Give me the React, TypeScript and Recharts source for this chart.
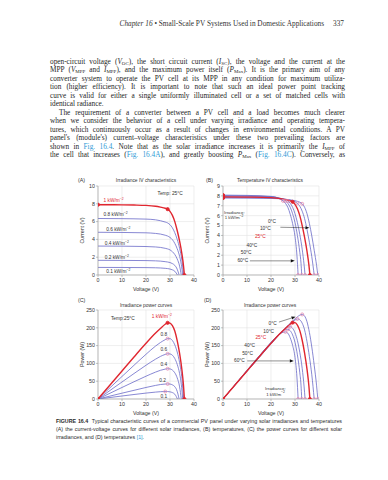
import React from 'react';
import { ComposedChart, Line, XAxis, YAxis, CartesianGrid, ReferenceDot, ReferenceLine } from 'recharts';

const RED = '#e0262f';
const BLUE = '#6a6ac8';
const PINK = '#e68cae';
const TXT = '#333';
const FONT = '"Liberation Sans", Arial, sans-serif';
const SERIF = '"Liberation Serif", "Times New Roman", serif';

// ---------- ticks ----------
const voltageTicks = [0, 10, 20, 30, 40];
const currentTicksA = [0, 2, 4, 6, 8, 10];
const currentTicksB = [0, 1, 2, 3, 4, 5, 6, 7, 8, 9];
const powerTicks = [0, 50, 100, 150, 200, 250];

// ---------- (A) irradiance I-V [V, A] ----------
const ivA1000 = [[0, 7.9], [5, 7.89], [10, 7.88], [15, 7.86], [20, 7.82], [24, 7.72], [26, 7.62], [28, 7.5], [29, 7.4], [30, 7.15], [31, 6.7], [32, 6.0], [33, 5.0], [34, 3.8], [35, 2.3], [35.6, 1.1], [36, 0]];
const ivA800 = [[0, 6.35], [10, 6.33], [20, 6.28], [24, 6.2], [26, 6.1], [28, 5.95], [29, 5.85], [30, 5.65], [31, 5.3], [32, 4.75], [33, 4.0], [34, 3.0], [35, 1.6], [35.7, 0]];
const ivA600 = [[0, 4.8], [10, 4.78], [20, 4.74], [24, 4.67], [26, 4.6], [28, 4.47], [29, 4.38], [30, 4.22], [31, 3.97], [32, 3.55], [33, 2.95], [34, 2.1], [34.7, 1.2], [35.3, 0]];
const ivA400 = [[0, 3.25], [10, 3.24], [20, 3.2], [24, 3.15], [26, 3.1], [28, 3.0], [29, 2.93], [30, 2.82], [31, 2.62], [32, 2.3], [33, 1.8], [34, 1.0], [34.7, 0]];
const ivA200 = [[0, 1.65], [10, 1.64], [20, 1.62], [24, 1.59], [26, 1.56], [28, 1.5], [29, 1.46], [30, 1.4], [31, 1.28], [32, 1.08], [33, 0.65], [33.8, 0]];
const ivA100 = [[0, 0.85], [10, 0.845], [20, 0.83], [24, 0.81], [26, 0.79], [28, 0.75], [29, 0.72], [30, 0.67], [31, 0.58], [32, 0.42], [32.6, 0.22], [33.1, 0]];
const markA = [[0, 7.9], [29, 7.4], [36, 0]];

// ---------- (B) temperature I-V ----------
const ivB0 = [[0, 7.78], [10, 7.77], [20, 7.74], [26, 7.66], [29, 7.56], [31, 7.45], [32, 7.36], [33, 7.2], [34, 6.85], [35, 6.2], [36, 5.2], [37, 3.95], [38, 2.5], [39, 0.95], [39.5, 0]];
const ivB10 = [[0, 7.84], [10, 7.83], [20, 7.79], [25, 7.69], [28, 7.56], [30, 7.4], [31, 7.25], [32, 6.95], [33, 6.45], [34, 5.7], [35, 4.6], [36, 3.3], [37, 1.85], [38, 0]];
const ivB25 = [[0, 7.9], [10, 7.88], [20, 7.82], [24, 7.72], [26, 7.62], [28, 7.5], [29, 7.4], [30, 7.15], [31, 6.7], [32, 6.0], [33, 5.0], [34, 3.8], [35, 2.4], [35.8, 1.0], [36.2, 0]];
const ivB40 = [[0, 7.97], [10, 7.95], [20, 7.88], [24, 7.76], [26, 7.6], [27, 7.48], [28, 7.25], [29, 6.85], [30, 6.2], [31, 5.3], [32, 4.1], [33, 2.6], [33.8, 1.0], [34.2, 0]];
const ivB50 = [[0, 8.02], [10, 8.0], [20, 7.92], [23, 7.8], [25, 7.62], [26, 7.5], [27, 7.25], [28, 6.85], [29, 6.2], [30, 5.3], [31, 4.0], [32, 2.3], [32.5, 1.2], [32.8, 0]];
const ivB60 = [[0, 8.08], [10, 8.05], [20, 7.95], [23, 7.78], [24, 7.65], [25, 7.5], [26, 7.25], [27, 6.85], [28, 6.15], [29, 5.2], [30, 3.9], [30.8, 2.0], [31.3, 0]];
const markBRed = [[0, 7.78], [0, 7.84], [0, 7.9], [0, 7.97], [0, 8.02], [0, 8.08], [29, 7.4], [36.2, 0]];
const markBPink = [[33, 7.2], [31, 7.25], [27, 7.48], [26, 7.5], [25, 7.5], [39.5, 0], [38, 0], [34.2, 0], [32.8, 0], [31.3, 0]];

// ---------- (C) irradiance P-V [V, W] ----------
const pC1000 = [[0, 0], [5, 39.5], [10, 78.8], [15, 117.9], [20, 156.4], [24, 185.3], [26, 198], [28, 210], [29, 214], [30, 213], [31, 206], [32, 191], [33, 164], [34, 128], [35, 80], [35.6, 40], [36, 0]];
const pC800 = [[0, 0], [5, 31.7], [10, 63.3], [15, 94.7], [20, 125.6], [24, 148.8], [26, 158.6], [28, 166.6], [29, 169.6], [30, 169.5], [31, 164.3], [32, 152], [33, 132], [34, 102], [35, 56], [35.7, 0]];
const pC600 = [[0, 0], [5, 24], [10, 47.8], [15, 71.5], [20, 94.8], [24, 112], [26, 119.6], [28, 125.2], [29, 127], [30, 126.6], [31, 123], [32, 113.6], [33, 97.4], [34, 71.4], [34.7, 41.6], [35.3, 0]];
const pC400 = [[0, 0], [5, 16.2], [10, 32.4], [15, 48.4], [20, 64], [24, 75.6], [26, 80.6], [28, 84], [29, 85], [30, 84.6], [31, 81.2], [32, 73.6], [33, 59.4], [34, 34], [34.7, 0]];
const pC200 = [[0, 0], [5, 8.2], [10, 16.4], [15, 24.4], [20, 32.4], [24, 38.2], [26, 40.6], [28, 42], [29, 42.3], [30, 42], [31, 39.7], [32, 34.6], [33, 21.5], [33.8, 0]];
const pC100 = [[0, 0], [5, 4.2], [10, 8.45], [15, 12.6], [20, 16.6], [24, 19.4], [26, 20.5], [28, 21], [29, 20.9], [30, 20.1], [31, 18], [32, 13.4], [32.6, 7.2], [33.1, 0]];
const markCRed = [[0, 0], [29, 214], [36, 0]];
const markCPink = [[29, 169.6], [29, 127], [29, 85], [29, 42.3], [28, 21]];

// ---------- (D) temperature P-V ----------
const pD0 = [[0, 0], [5, 38.9], [10, 77.7], [15, 116], [20, 154.8], [26, 199], [29, 219], [31, 231], [32, 235.5], [33, 237.6], [34, 233], [35, 217], [36, 187], [37, 146], [38, 95], [39, 37], [39.5, 0]];
const pD10 = [[0, 0], [5, 39.2], [10, 78.3], [15, 117.3], [20, 155.8], [25, 192], [28, 211.7], [30, 222], [31, 224.8], [32, 222.4], [33, 213], [34, 194], [35, 161], [36, 119], [37, 68], [38, 0]];
const pD25 = [[0, 0], [5, 39.5], [10, 78.8], [15, 117.9], [20, 156.4], [24, 185.3], [26, 198], [28, 210], [29, 214.6], [30, 214.5], [31, 207.7], [32, 192], [33, 165], [34, 129], [35, 84], [35.8, 36], [36.2, 0]];
const pD40 = [[0, 0], [5, 39.8], [10, 79.5], [15, 118.8], [20, 157.6], [24, 186.2], [26, 197.6], [27, 202], [28, 203], [29, 198.7], [30, 186], [31, 164.3], [32, 131], [33, 85.8], [33.8, 34], [34.2, 0]];
const pD50 = [[0, 0], [5, 40], [10, 80], [15, 119.6], [20, 158.4], [23, 179.4], [25, 190.5], [26, 195], [27, 195.8], [28, 191.8], [29, 180], [30, 159], [31, 124], [32, 73.6], [32.5, 39], [32.8, 0]];
const pD60 = [[0, 0], [5, 40.3], [10, 80.5], [15, 120.2], [20, 159], [23, 179], [24, 183.6], [25, 187.5], [26, 188.5], [27, 185], [28, 172], [29, 150.8], [30, 117], [30.8, 61.6], [31.3, 0]];
const markDRed = [[0, 0], [29, 214.6], [36.2, 0]];
const markDPink = [[33, 237.6], [31, 224.8], [28, 203], [27, 195.8], [26, 188.5], [39.5, 0], [38, 0], [34.2, 0], [32.8, 0], [31.3, 0]];

const pts = (a: number[][]) => a.map(([v, y]) => ({ v, y }));

const curve = (key: string, data: number[][], color: string, width: number) => (
  <Line key={key} data={pts(data)} dataKey="y" type="monotone" stroke={color} strokeWidth={width}
    dot={false} activeDot={false} isAnimationActive={false} legendType="none" />
);

const marks = (key: string, data: number[][], color: string, filled: boolean, r: number) => (
  <Line key={key} data={pts(data)} dataKey="y" type="linear" stroke="none"
    dot={{ r, fill: filled ? color : 'none', stroke: color, strokeWidth: 0.8 }}
    activeDot={false} isAnimationActive={false} legendType="none" />
);

const sup = (s: string) => <tspan dy={-1.6} fontSize={3.4}>{s}</tspan>;

const note = (key: string, x: number, y: number, content: React.ReactNode, color = TXT, size = 4.8) => (
  <ReferenceDot key={key} x={x} y={y} r={0} fill="none" stroke="none" ifOverflow="visible"
    label={{
      content: (p: any) => {
        const vb = p.viewBox || {};
        return (
          <text x={vb.x} y={vb.y} fontSize={size} fill={color} fontFamily={FONT} dominantBaseline="central">
            {content}
          </text>
        );
      },
    }} />
);

const arrow = (key: string, x1: number, y1: number, x2: number, y2: number) => (
  <ReferenceLine key={key} segment={[{ x: x1, y: y1 }, { x: x2, y: y2 }]} stroke="#222" strokeWidth={0.5}
    ifOverflow="visible"
    shape={(p: any) => {
      const a = Math.atan2(p.y2 - p.y1, p.x2 - p.x1);
      const L = 4, W = 1.6;
      const bx = p.x2 - L * Math.cos(a), by = p.y2 - L * Math.sin(a);
      const px = -Math.sin(a) * W, py = Math.cos(a) * W;
      return (
        <g>
          <line x1={p.x1} y1={p.y1} x2={bx} y2={by} stroke="#222" strokeWidth={0.5} />
          <path d={`M${p.x2},${p.y2} L${bx + px},${by + py} L${bx - px},${by - py} Z`} fill="#111" />
        </g>
      );
    }} />
);

const tickStyle = { fontSize: 5.3, fill: TXT, fontFamily: FONT };

function Panel(props: {
  left: number; top: number; yTicks: number[]; yMax: number; yLabel: string; children: React.ReactNode;
}) {
  const { left, top, yTicks, yMax, yLabel, children } = props;
  return (
    <div style={{ position: 'absolute', left, top, width: 126, height: 122 }}>
      <ComposedChart width={126} height={122} margin={{ top: 10, right: 4, bottom: 5, left: 0 }}>
        <CartesianGrid stroke="#e2e2e2" strokeWidth={0.6} />
        <XAxis dataKey="v" type="number" domain={[0, 40]} ticks={voltageTicks} allowDataOverflow
          height={18} tick={tickStyle} tickSize={2} tickMargin={1} interval={0}
          axisLine={{ stroke: '#999', strokeWidth: 0.6 }} tickLine={{ stroke: '#999', strokeWidth: 0.6 }}
          label={{ value: 'Voltage (V)', position: 'insideBottom', offset: 2, fontSize: 5.3, fill: TXT, fontFamily: FONT }} />
        <YAxis type="number" domain={[0, yMax]} ticks={yTicks} allowDataOverflow width={26}
          tick={tickStyle} tickSize={2} tickMargin={1} interval={0}
          axisLine={{ stroke: '#999', strokeWidth: 0.6 }} tickLine={{ stroke: '#999', strokeWidth: 0.6 }}
          label={{
            content: (p: any) => {
              const vb = p.viewBox || { x: 0, y: 0, height: 0 };
              const x = vb.x + 10;
              const y = vb.y + vb.height / 2;
              return (
                <text x={x} y={y} transform={`rotate(-90 ${x} ${y})`} textAnchor="middle" dominantBaseline="central"
                  fontSize={5.3} fill={TXT} fontFamily={FONT}>{yLabel}</text>
              );
            },
          }} />
        {children}
      </ComposedChart>
    </div>
  );
}

const Ref = ({ children }: { children: React.ReactNode }) => <span style={{ color: '#2f9bd6' }}>{children}</span>;
const subStyle: React.CSSProperties = { fontSize: '0.68em', verticalAlign: '-0.25em', lineHeight: 0 };
const S = ({ c }: { c: string }) => <sub style={subStyle}>{c}</sub>;

const bodyLines: React.ReactNode[] = [
  <>open-circuit voltage (<i>V</i><S c="OC" />), the short circuit current (<i>I</i><S c="SC" />), the voltage and the current at the</>,
  <>MPP (<i>V</i><S c="MPP" /> and <i>I</i><S c="MPP" />), and the maximum power itself (<i>P</i><S c="Max" />). It is the primary aim of any</>,
  <>converter system to operate the PV cell at its MPP in any condition for maximum utiliza-</>,
  <>tion (higher efficiency). It is important to note that such an ideal power point tracking</>,
  <>curve is valid for either a single uniformly illuminated cell or a set of matched cells with</>,
  <>identical radiance.</>,
  <>The requirement of a converter between a PV cell and a load becomes much clearer</>,
  <>when we consider the behavior of a cell under varying irradiance and operating tempera-</>,
  <>tures, which continuously occur as a result of changes in environmental conditions. A PV</>,
  <>panel's (module's) current–voltage characteristics under these two prevailing factors are</>,
  <>shown in <Ref>Fig. 16.4</Ref>. Note that as the solar irradiance increases it is primarily the <i>I</i><S c="MPP" /> of</>,
  <>the cell that increases (<Ref>Fig. 16.4A</Ref>), and greatly boosting <i>P</i><S c="Max" /> (<Ref>Fig. 16.4C</Ref>). Conversely, as</>,
];

const captionLines: React.ReactNode[] = [
  <><b>FIGURE 16.4</b>&nbsp; Typical characteristic curves of a commercial PV panel under varying solar irradiances and temperatures</>,
  <>(A) the current-voltage curves for different solar irradiances, (B) temperatures, (C) the power curves for different solar</>,
  <>irradiances, and (D) temperatures <Ref>[1]</Ref>.</>,
];

const abs = (left: number, top: number, extra: React.CSSProperties = {}): React.CSSProperties => ({
  position: 'absolute', left, top, fontFamily: FONT, fontSize: 5.3, color: TXT, lineHeight: '6px', whiteSpace: 'nowrap', ...extra,
});

export default function App() {
  return (
    <div style={{ position: 'absolute', left: 0, top: 0, width: 388, height: 480, background: '#fff', overflow: 'hidden', color: '#222' }}>
      {/* running header */}
      <div style={{ position: 'absolute', top: 18.5, right: 44, fontFamily: SERIF, fontSize: 7.3, lineHeight: '9px', whiteSpace: 'nowrap', color: '#333' }}>
        <i>Chapter 16</i> • Small-Scale PV Systems Used in Domestic Applications<span style={{ marginLeft: 9 }}>337</span>
      </div>

      {/* body text */}
      {bodyLines.map((ln, k) => (
        <div key={k} style={{
          position: 'absolute', left: 50, top: 57.7 + 8.5 * k, width: 295, height: 8.5,
          fontFamily: SERIF, fontSize: 7.3, lineHeight: '8.5px',
          textAlign: k === 5 ? 'left' : 'justify', textAlignLast: k === 5 ? 'left' : 'justify',
          paddingLeft: k === 6 ? 9 : 0, boxSizing: 'border-box', color: '#262626',
        }}>{ln}</div>
      ))}

      {/* panel letters and titles */}
      <div style={abs(78, 177)}>(A)</div>
      <div style={abs(206, 177)}>(B)</div>
      <div style={abs(78, 297)}>(C)</div>
      <div style={abs(204, 297)}>(D)</div>
      <div style={abs(96, 178, { width: 100, textAlign: 'center', fontSize: 4.9 })}>Irradiance IV characteristics</div>
      <div style={abs(220, 178, { width: 100, textAlign: 'center', fontSize: 4.9 })}>Temperature IV characteristics</div>
      <div style={abs(96, 303, { width: 100, textAlign: 'center', fontSize: 4.9 })}>Irradiance power curves</div>
      <div style={abs(220, 303, { width: 100, textAlign: 'center', fontSize: 4.9 })}>Irradiance power curves</div>

      {/* (A) */}
      <Panel left={72} top={176} yTicks={currentTicksA} yMax={10} yLabel="Current (V)">
        {curve('a800', ivA800, BLUE, 0.8)}
        {curve('a600', ivA600, BLUE, 0.8)}
        {curve('a400', ivA400, BLUE, 0.8)}
        {curve('a200', ivA200, BLUE, 0.8)}
        {curve('a100', ivA100, BLUE, 0.8)}
        {curve('a1000', ivA1000, RED, 1.4)}
        {marks('am', markA, RED, true, 1.6)}
        {note('n1', 2.3, 8.4, <>1 kW/m{sup('−2')}</>, RED)}
        {note('n2', 2.3, 6.75, <>0.8 kW/m{sup('−2')}</>)}
        {note('n3', 3.4, 5.1, <>0.6 kW/m{sup('−2')}</>)}
        {note('n4', 2.8, 3.5, <>0.4 kW/m{sup('−2')}</>)}
        {note('n5', 2.8, 1.95, <>0.2 kW/m{sup('−2')}</>)}
        {note('n6', 3.4, 0.4, <>0.1 kW/m{sup('−2')}</>)}
        {note('n7', 24.8, 9.15, 'Temp: 25°C')}
      </Panel>

      {/* (B) */}
      <Panel left={197} top={176} yTicks={currentTicksB} yMax={9} yLabel="Current (V)">
        {curve('b0', ivB0, BLUE, 0.8)}
        {curve('b10', ivB10, BLUE, 0.8)}
        {curve('b40', ivB40, BLUE, 0.8)}
        {curve('b50', ivB50, BLUE, 0.8)}
        {curve('b60', ivB60, BLUE, 0.8)}
        {curve('b25', ivB25, RED, 1.4)}
        {marks('bp', markBPink, PINK, false, 1.5)}
        {marks('br', markBRed, RED, true, 1.6)}
        {note('m1', 0.4, 6.35, 'Irradiance:', TXT, 4.4)}
        {note('m2', 0.7, 5.85, <>1 kW/m{sup('−2')}</>, TXT, 4.4)}
        {note('m3', 18.7, 5.43, '0°C')}
        {note('m4', 15.4, 4.67, '10°C')}
        {note('m5', 13.3, 3.85, '25°C', RED)}
        {note('m6', 9.8, 3.0, '40°C')}
        {note('m7', 7.4, 2.27, '50°C')}
        {note('m8', 6.0, 1.45, '60°C')}
        {arrow('ar1', 23.9, 4.83, 36.0, 4.77)}
        {arrow('ar2', 11.2, 1.43, 29.9, 1.43)}
      </Panel>

      {/* (C) */}
      <Panel left={72} top={300} yTicks={powerTicks} yMax={250} yLabel="Power (W)">
        {curve('c800', pC800, BLUE, 0.8)}
        {curve('c600', pC600, BLUE, 0.8)}
        {curve('c400', pC400, BLUE, 0.8)}
        {curve('c200', pC200, BLUE, 0.8)}
        {curve('c100', pC100, BLUE, 0.8)}
        {curve('c1000', pC1000, RED, 1.4)}
        {marks('cp', markCPink, PINK, false, 1.5)}
        {marks('cr', markCRed, RED, true, 1.6)}
        {note('k1', 5.4, 226, 'Temp:25°C')}
        {note('k2', 22.4, 232, <>1 kW/m{sup('−2')}</>, RED)}
        {note('k3', 26, 182, '0.8')}
        {note('k4', 26, 138, '0.6')}
        {note('k5', 26, 97, '0.4')}
        {note('k6', 25.5, 53, '0.2')}
        {note('k7', 26, 8, '0.1')}
      </Panel>

      {/* (D) */}
      <Panel left={197} top={300} yTicks={powerTicks} yMax={250} yLabel="Power (W)">
        {curve('d0', pD0, BLUE, 0.8)}
        {curve('d10', pD10, BLUE, 0.8)}
        {curve('d40', pD40, BLUE, 0.8)}
        {curve('d50', pD50, BLUE, 0.8)}
        {curve('d60', pD60, BLUE, 0.8)}
        {curve('d25', pD25, RED, 1.4)}
        {marks('dp', markDPink, PINK, false, 1.5)}
        {marks('dr', markDRed, RED, true, 1.6)}
        {note('j1', 19, 212, '0°C')}
        {note('j2', 16.8, 190, '10°C')}
        {note('j3', 13.5, 172, '25°C', RED)}
        {note('j4', 8.9, 150, '40°C')}
        {note('j5', 8, 128, '50°C')}
        {note('j6', 4.6, 107, '60°C')}
        {arrow('dr1', 23.3, 216, 30.2, 231)}
        {arrow('dr2', 10.1, 107, 29.5, 107)}
        {note('j7', 17.5, 30, 'Irradiance:', TXT, 4.4)}
        {note('j8', 18, 14, <>1 kW/m{sup('−2')}</>, TXT, 4.4)}
      </Panel>

      {/* caption */}
      {captionLines.map((ln, k) => (
        <div key={k} style={{
          position: 'absolute', left: 56, top: 417.5 + 8 * k, width: 286, height: 7,
          fontFamily: FONT, fontSize: 5.3, lineHeight: '7px', color: '#2a2a2a',
          textAlign: k === 2 ? 'left' : 'justify', textAlignLast: k === 2 ? 'left' : 'justify',
        }}>{ln}</div>
      ))}
    </div>
  );
}
